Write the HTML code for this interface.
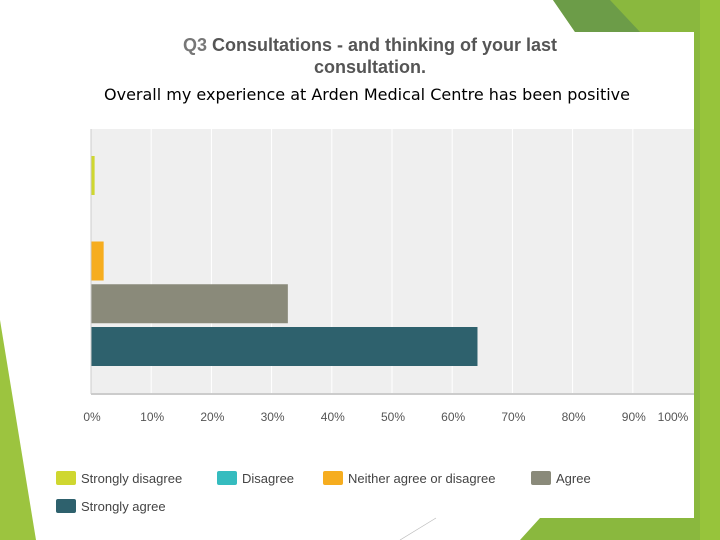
<!DOCTYPE html>
<html><head><meta charset="utf-8"><style>
html,body{margin:0;padding:0;width:720px;height:540px;overflow:hidden;background:#fff;font-family:"Liberation Sans",sans-serif}
svg{position:absolute;left:0;top:0}
</style></head><body>
<svg width="720" height="540">
  <g>
    <polygon points="0,320 36,540 0,540" fill="#9cc43f"/>
    <polygon points="553,0 720,0 720,540 520,540 540,518 694,518 694,32 575,32" fill="#8ab83e"/>
    <polygon points="553,0 610,0 640,32 575,32" fill="#6c9c48"/>
    <polygon points="700,0 720,0 720,540 700,540" fill="#97c43b"/>
    <line x1="400" y1="540" x2="436" y2="518" stroke="#bbb" stroke-width="0.7"/>
  </g>
  <text x="370" y="51" text-anchor="middle" font-size="18" font-weight="bold" fill="#555"><tspan fill="#777">Q3</tspan> Consultations - and thinking of your last</text>
  <text x="370" y="73" text-anchor="middle" font-size="18" font-weight="bold" fill="#555">consultation.</text>
  <text x="367" y="100" text-anchor="middle" font-size="16" fill="#000" font-family="DejaVu Sans, sans-serif">Overall my experience at Arden Medical Centre has been positive</text>
  <rect x="91" y="129" width="603" height="264" fill="#efefef"/>
  <g id="grid"></g>
  <g id="bars"></g>
  <line x1="91" y1="394" x2="694" y2="394" stroke="#ccc" stroke-width="2"/>
  <line x1="91" y1="129" x2="91" y2="394" stroke="#ccc" stroke-width="1"/>
  <g id="ticks"></g>
  <g id="legend"></g>
</svg>
<script>
const categories = ["Strongly disagree","Disagree","Neither agree or disagree","Agree","Strongly agree"];
const values = [0.6, 0, 2.1, 32.7, 64.2];
const colors = ["#cfd730","#35bcbf","#f6ad1f","#8a8a7a","#2e616d"];
const tickLabels = ["0%","10%","20%","30%","40%","50%","60%","70%","80%","90%","100%"];
const tickValues = [0,10,20,30,40,50,60,70,80,90,100];
const x0=91, x1=693;
const xs = v => x0 + (x1-x0)*v/100;
const barTop = i => 156 + i*42.75;
const ns="http://www.w3.org/2000/svg";
const grid=document.getElementById('grid'), bars=document.getElementById('bars'), ticks=document.getElementById('ticks'), legend=document.getElementById('legend');
tickValues.forEach((t,i)=>{
  if(t>0 && t<100){
    const l=document.createElementNS(ns,'line');
    l.setAttribute('x1',xs(t));l.setAttribute('x2',xs(t));l.setAttribute('y1',129);l.setAttribute('y2',393);
    l.setAttribute('stroke','#fff');l.setAttribute('stroke-width','1');
    
    
    grid.appendChild(l);
  }
  const tx=document.createElementNS(ns,'text');
  tx.setAttribute('x', t===100 ? xs(t)-20 : xs(t)+1);
  tx.setAttribute('y',421);tx.setAttribute('text-anchor','middle');tx.setAttribute('font-size','12');tx.setAttribute('fill','#555');
  tx.textContent=tickLabels[i];
  
  
  ticks.appendChild(tx);
});
values.forEach((v,i)=>{
  if(v<=0) return;
  const r=document.createElementNS(ns,'rect');
  r.setAttribute('x',x0);r.setAttribute('y',barTop(i));
  r.setAttribute('width',xs(v)-x0);r.setAttribute('height',39);
  r.setAttribute('fill',colors[i]);
  
  
  bars.appendChild(r);
});
const legX=[56,217,323,531,56], legY=[471,471,471,471,499];
categories.forEach((c,i)=>{
  const g=document.createElementNS(ns,'g');
  
  
  const r=document.createElementNS(ns,'rect');
  r.setAttribute('x',legX[i]);r.setAttribute('y',legY[i]);r.setAttribute('width',20);r.setAttribute('height',14);r.setAttribute('rx',2);
  r.setAttribute('fill',colors[i]);
  
  
  const t=document.createElementNS(ns,'text');
  t.setAttribute('x',legX[i]+25);t.setAttribute('y',legY[i]+12);t.setAttribute('font-size','13');t.setAttribute('fill','#444');
  t.textContent=c;
  
  
  g.appendChild(r);g.appendChild(t);legend.appendChild(g);
});
</script>
</body></html>
